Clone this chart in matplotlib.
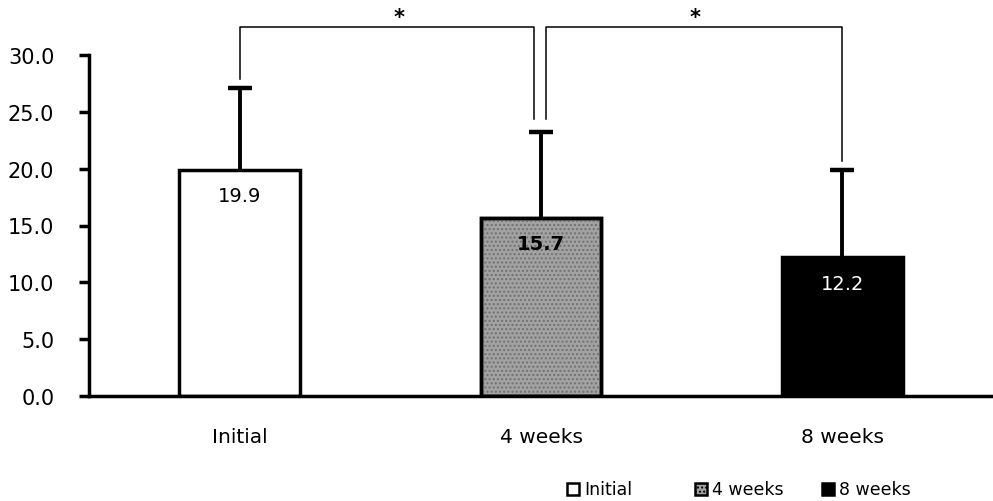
import matplotlib
matplotlib.use("Agg")
import matplotlib.pyplot as plt
from matplotlib.patches import Rectangle

# Data
categories = ["Initial", "4 weeks", "8 weeks"]
means = [19.9, 15.7, 12.2]
sds = [7.2, 7.5, 7.7]
value_labels = ["19.9", "15.7", "12.2"]
y_ticks = [0, 5, 10, 15, 20, 25, 30]

plt.rcParams["font.family"] = ["DejaVu Sans"]

W, H = 993, 502
fig = plt.figure(figsize=(W / 100, H / 100), dpi=100)
ax = fig.add_axes([89 / W, 105 / H, (W - 89) / W, (397 - 56) / H])

x = list(range(len(categories)))
width = 0.4
faces = ["white", "#a2a2a2", "black"]
tops = [m + s for m, s in zip(means, sds)]

# Upper error bars: stem plus top cap
ax.vlines(x, means, tops, color="black", linewidth=2.8, zorder=1)
ax.plot(x, tops, linestyle="none", marker="_", markersize=17,
        markeredgewidth=3.2, color="black", zorder=1)

ax.bar(x, means, width=width, color=faces, edgecolor="black",
       linewidth=2.5, zorder=2)
# grainy texture on the middle bar
ax.bar([x[1]], [means[1]], width=width, color="none", edgecolor="#707070",
       linewidth=0, hatch="....", zorder=2.5)
ax.bar([x[1]], [means[1]], width=width, color="none", edgecolor="black",
       linewidth=2.5, zorder=3)

# Value labels inside bars
label_colors = ["black", "black", "white"]
label_weights = ["normal", "bold", "normal"]
for xi, m, txt, c, w in zip(x, means, value_labels, label_colors, label_weights):
    ax.text(xi, m - 2.3, txt, ha="center", va="center", color=c,
            fontsize=14, fontweight=w, zorder=4)

ax.set_xlim(-0.5, 2.5)
ax.set_ylim(0, 30)
ax.set_yticks(y_ticks)
ax.set_yticklabels([f"{v:.1f}" for v in y_ticks], fontsize=15)
ax.set_xticks(x)
ax.set_xticklabels(categories, fontsize=14.5)
ax.tick_params(axis="x", length=0, pad=22)
ax.tick_params(axis="y", length=7, width=2.5, direction="out", pad=18)

for s in ["top", "right"]:
    ax.spines[s].set_visible(False)
ax.spines["left"].set_linewidth(2.5)
ax.spines["bottom"].set_linewidth(2.5)

# Significance brackets
br_y = 32.45
def bracket(x0, y0, x1, y1, star_x):
    ax.plot([x0, x0, x1, x1], [y0, br_y, br_y, y1], color="black",
            linewidth=1.1, clip_on=False, zorder=5)
    ax.text(star_x, 33.35, "*", ha="center", va="center",
            fontsize=15, fontweight="bold", clip_on=False)

bracket(x[0], 27.9, 0.977, 24.4, 0.53)
bracket(1.017, 24.4, x[2], 20.7, 1.51)

# Legend row at the bottom right, equally spaced entries
legend_x = [567, 695, 822]
sq = 12
for lx, f, name in zip(legend_x, faces, categories):
    r = Rectangle((lx / W, (H - 490 - sq / 2) / H), sq / W, sq / H,
                  transform=fig.transFigure, facecolor=f, edgecolor="black",
                  linewidth=1.8, hatch="...." if f == faces[1] else None)
    fig.patches.append(r)
    fig.text((lx + sq + 5) / W, (H - 490) / H, name, ha="left", va="center",
             fontsize=12.5)

fig.savefig("out.png", dpi=100)
